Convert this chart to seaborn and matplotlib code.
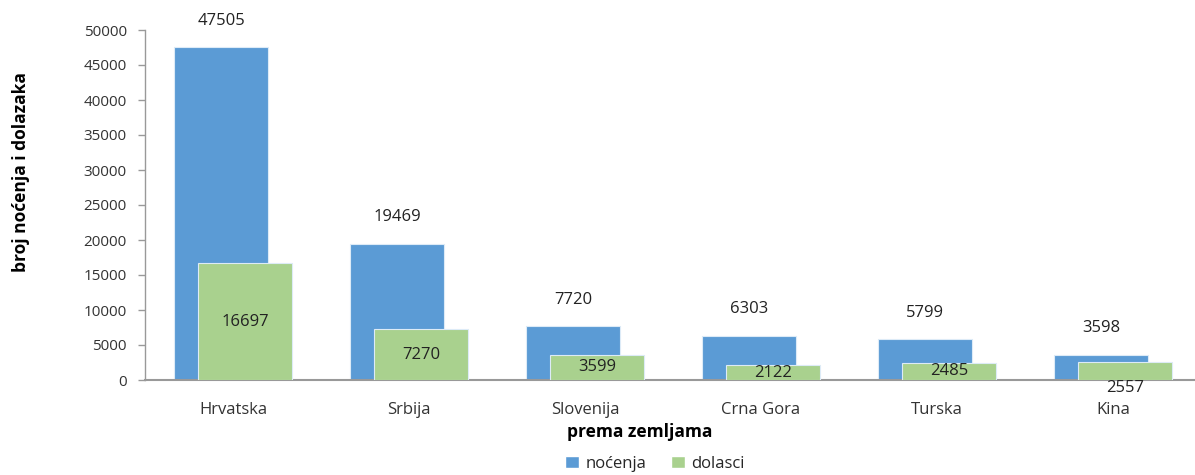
import matplotlib
matplotlib.use("Agg")
import matplotlib.pyplot as plt
import seaborn as sns
import pandas as pd
from matplotlib.patches import Patch

categories = ["Hrvatska", "Srbija", "Slovenija", "Crna Gora", "Turska", "Kina"]
nocenja = [47505, 19469, 7720, 6303, 5799, 3598]
dolasci = [16697, 7270, 3599, 2122, 2485, 2557]
yticks = [0, 5000, 10000, 15000, 20000, 25000, 30000, 35000, 40000, 45000, 50000]

sns.set_theme(style="white")
plt.rcParams['font.family'] = ['Open Sans', 'DejaVu Sans']

BLUE = "#5B9BD5"
GREEN = "#A9D18E"
W = 0.534
OFF = 0.068

fig = plt.figure(figsize=(11.95, 4.75), dpi=100)
ax = fig.add_axes([145/1195, 0.2, 1 - 145/1195, (380-30)/475])

df = pd.DataFrame({"zemlja": categories, "nocenja": nocenja, "dolasci": dolasci})
sns.barplot(data=df, x="zemlja", y="nocenja", order=categories, color=BLUE,
            width=W, saturation=1, ax=ax, zorder=2)
n1 = len(ax.patches)
sns.barplot(data=df, x="zemlja", y="dolasci", order=categories, color=GREEN,
            width=W, saturation=1, ax=ax, zorder=3)
for i, p in enumerate(ax.patches):
    p.set_edgecolor("#DDEBF7")
    p.set_linewidth(0.8)
    if i < n1:
        p.set_x(p.get_x() - OFF)
    else:
        p.set_x(p.get_x() + OFF)
        p.set_zorder(3)

for i, p in enumerate(ax.patches):
    cx = p.get_x() + p.get_width() / 2
    h = p.get_height()
    if i < n1:
        ax.annotate(f"{int(round(h))}", (cx, h), xytext=(0, 19), textcoords="offset points",
                    ha="center", va="center", fontsize=12, color="#222222")
    else:
        dy = -12 if categories[i - n1] == "Kina" else 0
        ax.annotate(f"{int(round(h))}", (cx, h / 2), xytext=(0, dy), textcoords="offset points",
                    ha="center", va="center", fontsize=12, color="#222222", zorder=5)

ax.set_ylim(0, 50000)
ax.set_xlim(-0.5, -0.5 + 1050/176)
ax.set_yticks(yticks)
ax.set_yticklabels([str(t) for t in yticks], fontsize=11, color="#333333")
ax.tick_params(axis="y", which="both", left=True, length=5, width=1, color="#999999", pad=8)
ax.tick_params(axis="x", bottom=False, labelsize=12, labelcolor="#333333", pad=10)
for s in ["top", "right"]:
    ax.spines[s].set_visible(False)
ax.spines["left"].set_color("#999999")
ax.spines["bottom"].set_color("#999999")
ax.spines["left"].set_linewidth(1)
ax.spines["bottom"].set_linewidth(1.5)

ax.set_ylabel("broj noćenja i dolazaka", fontsize=12.5, fontweight="bold", color="black")
ax.yaxis.set_label_coords((30-145)/1050, (380-172)/350)
ax.set_xlabel("prema zemljama", fontsize=12.5, fontweight="bold", color="black")
ax.xaxis.set_label_coords((640-145)/1050, -(43/350))

handles = [Patch(facecolor=BLUE, label="noćenja"), Patch(facecolor=GREEN, label="dolasci")]
fig.legend(handles=handles, loc="center", bbox_to_anchor=(655/1195, 0.024), ncol=2,
           frameon=False, fontsize=12, handlelength=0.8, handleheight=0.8,
           handletextpad=0.4, columnspacing=1.5)

fig.savefig("out.png", dpi=100)
